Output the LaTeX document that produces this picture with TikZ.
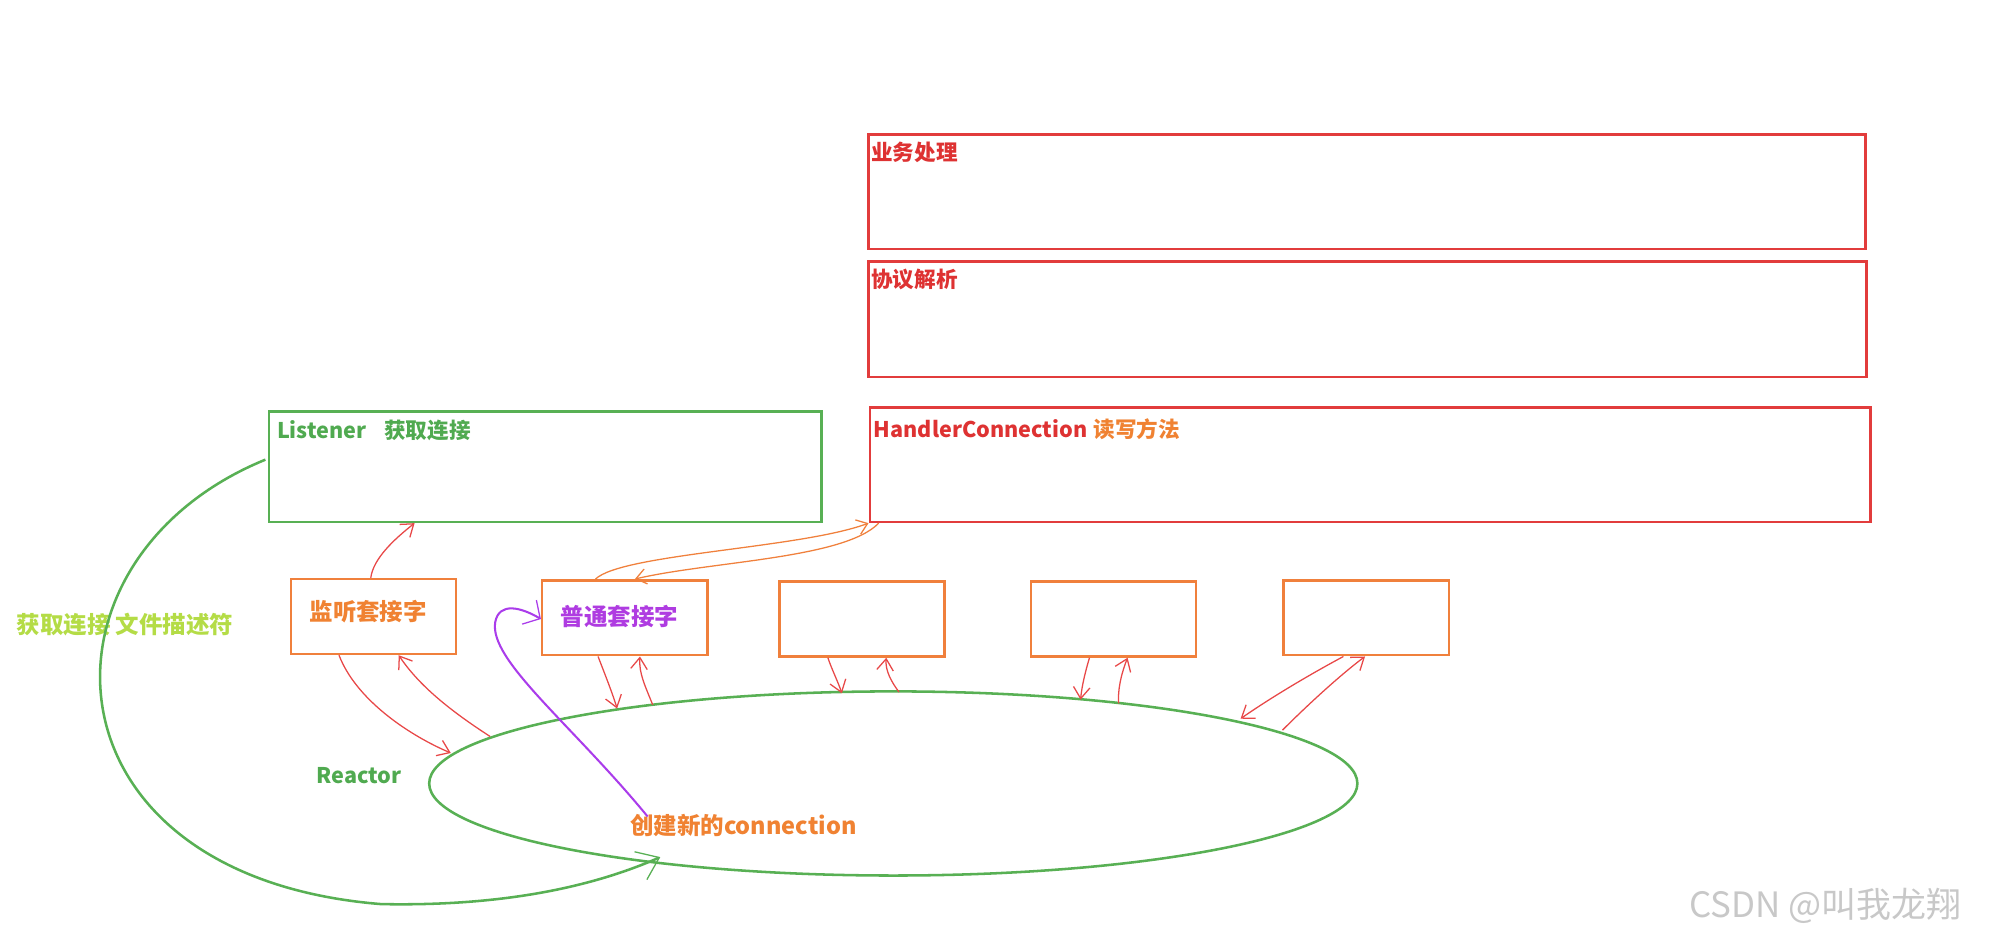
\documentclass[tikz,border=0pt]{standalone}
\usepackage{fontspec}
\newfontfamily\cjk{Noto Sans CJK SC}
\usetikzlibrary{shapes.geometric,arrows.meta}
\definecolor{bred}{RGB}{226,60,60}
\definecolor{bora}{RGB}{240,128,60}
\definecolor{bgreen}{RGB}{88,176,84}
\definecolor{tgreen}{RGB}{80,170,80}
\definecolor{tred}{RGB}{222,50,50}
\definecolor{tora}{RGB}{240,130,50}
\definecolor{tpurple}{RGB}{175,60,225}
\definecolor{lpurple}{RGB}{170,60,235}
\definecolor{tyg}{RGB}{180,220,70}
\definecolor{ared}{RGB}{232,72,72}
\definecolor{wm}{RGB}{200,200,200}
\begin{document}
\begin{tikzpicture}[x=1pt,y=-1pt,
  redbox/.style={draw=bred,line width=2pt,rectangle,inner sep=0pt,anchor=north west},
  grnbox/.style={draw=bgreen,line width=2pt,rectangle,inner sep=0pt,anchor=north west},
  sockbox/.style={draw=bora,line width=2pt,rectangle,inner sep=0pt,anchor=north west,minimum width=130pt,minimum height=59pt},
  lbl/.style={font=\cjk\bfseries\fontsize{17}{19}\selectfont,inner sep=0pt,anchor=west},
  biglbl/.style={lbl,font=\cjk\bfseries\fontsize{18.5}{20}\selectfont},
  redarr/.style={draw=ared,line width=1pt,-{Straight Barb[length=9pt,width=13pt]}},
  oraarr/.style={draw=bora,line width=1pt,-{Straight Barb[length=8pt,width=12pt]}},
  grnarr/.style={draw=bgreen,line width=2pt,-{Straight Barb[length=16pt,width=24pt,line width=1pt]}},
  purarr/.style={draw=lpurple,line width=1.6pt,-{Straight Barb[length=10pt,width=22pt,line width=1pt]}}]
\path[use as bounding box,fill=white] (0,0) rectangle (1568,740);

% top boxes
\node[redbox,minimum width=785pt,minimum height=90pt] (biz) at (683,105) {};
\node[redbox,minimum width=786pt,minimum height=91pt] (proto) at (683,205) {};
\node[redbox,minimum width=788pt,minimum height=90pt] (hc) at (684,320) {};
\node[grnbox,minimum width=435pt,minimum height=87pt] (lis) at (211,323) {};

\node[lbl,text=tred] (bizL) at ([xshift=3pt,yshift=-15pt]biz.north west) {业务处理};
\node[lbl,text=tred] (protoL) at ([xshift=3pt,yshift=-15pt]proto.north west) {协议解析};
\node[lbl,text=tred] (hcL) at ([xshift=4pt,yshift=-18pt]hc.north west) {HandlerConnection\hspace{5pt}\textcolor{tora}{读写方法}};
\node[lbl,text=tgreen] (lisL) at ([xshift=7pt,yshift=-16pt]lis.north west) {Listener\hspace{14pt}获取连接};

% socket boxes
\node[sockbox] (ls) at (228,455) {};
\node[sockbox] (ns) at (426,456) {};
\node[sockbox] (b3) at (613,457) {};
\node[sockbox] (b4) at (811,457) {};
\node[sockbox] (b5) at (1010,456) {};
\node[biglbl,anchor=center,text=tora] (lsL) at ([xshift=-4pt,yshift=4pt]ls.center) {监听套接字};
\node[biglbl,anchor=center,text=tpurple] (nsL) at ([xshift=-4pt,yshift=1pt]ns.center) {普通套接字};

% reactor ellipse
\node[draw=bgreen,line width=2pt,ellipse,inner sep=0pt,minimum width=731pt,minimum height=145pt] (reac) at (703.5,617) {};

% texts
\node[biglbl,text=tyg] (fd) at (13,492) {获取连接\hspace{4pt}文件描述符};
\node[lbl,text=tgreen] (reacL) at (249,611) {Reactor};
\node[biglbl,text=tora] (newc) at (496,650) {创建新的connection};
\node[font=\cjk\fontsize{27.5}{29}\selectfont,text=wm,inner sep=0pt,anchor=west] (wmk) at (1330,713) {CSDN @叫我龙翔};

% points on the ellipse
\coordinate (e1) at (355,593);
\coordinate (e2) at (386,580);
\coordinate (e3) at (486,558);
\coordinate (e4) at (514,555);
\coordinate (e5) at (663,546);
\coordinate (e6) at (708,545);
\coordinate (e7) at (851,551);
\coordinate (e8) at (881,554);
\coordinate (e9) at (977,566);
\coordinate (e10) at (1010,575);
\coordinate (e11) at (520,675);
\coordinate (pstart) at (510,643);

% red arrows
\draw[redarr] ([xshift=-2pt]ls.north) .. controls (294,440) and (310,425) .. ([xshift=-103pt]lis.south);
\draw[redarr] ([xshift=-27pt]ls.south) .. controls (280,550) and (320,578) .. (e1);
\draw[redarr] (e2) .. controls (355,560) and (330,540) .. ([xshift=20pt]ls.south);
\draw[redarr] ([xshift=-21pt]ns.south) .. controls (476,530) and (482,545) .. (e3);
\draw[redarr] (e4) .. controls (508,540) and (503,530) .. ([xshift=12pt]ns.south);
\draw[redarr] ([xshift=-27pt]b3.south) .. controls (655,527) and (660,537) .. (e5);
\draw[redarr] (e6) .. controls (702,537) and (697,528) .. ([xshift=19pt]b3.south);
\draw[redarr] ([xshift=-19pt]b4.south) .. controls (855,528) and (852,540) .. (e7);
\draw[redarr] (e8) .. controls (880,542) and (884,528) .. ([xshift=11pt]b4.south);
\draw[redarr] ([xshift=-18pt]b5.south) .. controls (1030,532) and (1000,550) .. (e9);
\draw[redarr] (e10) .. controls (1030,555) and (1055,532) .. ([xshift=-1pt]b5.south);

% orange arrows
\draw[oraarr] ([xshift=-23pt]ns.north) .. controls (490,436) and (630,432) .. (hc.south west);
\draw[oraarr] ([xshift=8pt]hc.south west) .. controls (665,440) and (560,442) .. ([xshift=8pt]ns.north);

% green big arrow
\draw[grnarr] ([xshift=-2pt,yshift=-39pt]lis.north west) .. controls (18,440) and (28,690) .. (300,712) .. controls (400,714) and (470,697) .. (e11);

% purple arrow
\draw[purarr] (pstart) .. controls (450,570) and (385,520) .. (390,490) .. controls (393,474) and (410,478) .. ([yshift=-1pt]ns.west);
\end{tikzpicture}
\end{document}
